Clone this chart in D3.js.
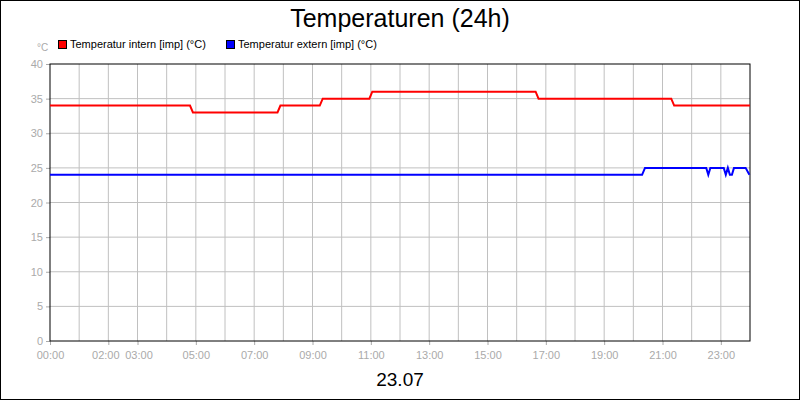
<!DOCTYPE html>
<html><head><meta charset="utf-8">
<script src="https://cdn.jsdelivr.net/npm/d3@7"></script>
<style>body{margin:0;background:#fff}svg{font-family:"Liberation Sans",Arial,sans-serif}</style>
</head><body>
<script>
// Stunden seit 00:00, Werte in °C
const internHours = [0, 4.8, 4.9, 7.8, 7.9, 9.25, 9.35, 10.95, 11.05, 16.65, 16.75, 21.3, 21.4, 24];
const internTemps = [34, 34, 33, 33, 34, 34, 35, 35, 36, 36, 35, 35, 34, 34];
const externHours = [0, 20.3, 20.4, 22.5, 22.57, 22.64, 23.1, 23.17, 23.24, 23.31, 23.38, 23.45, 23.85, 23.98];
const externTemps = [24, 24, 25, 25, 24, 25, 25, 24, 25, 24, 24, 25, 25, 24];
const tickHours = [0, 2, 3, 5, 7, 9, 11, 13, 15, 17, 19, 21, 23];
const yTicks = [0, 5, 10, 15, 20, 25, 30, 35, 40];

const W = 800, H = 400;
const m = {left: 50, right: 50, top: 64, bottom: 59};
const svg = d3.select('body').append('svg').attr('width', W).attr('height', H);
svg.append('rect').attr('x', 0.5).attr('y', 0.5).attr('width', W - 1).attr('height', H - 1)
    .attr('fill', '#fff').attr('stroke', '#000');

const x = d3.scaleLinear().domain([0, 24]).range([m.left, W - m.right]);
const y = d3.scaleLinear().domain([0, 40]).range([H - m.bottom, m.top]);

// Gitter
svg.append('g').selectAll('line').data(d3.range(1, 24)).enter().append('line')
    .attr('x1', d => x(d)).attr('x2', d => x(d)).attr('y1', y(0)).attr('y2', y(40))
    .attr('stroke', '#c0c0c0');
svg.append('g').selectAll('line').data(yTicks.slice(1, -1)).enter().append('line')
    .attr('x1', x(0)).attr('x2', x(24)).attr('y1', d => y(d)).attr('y2', d => y(d))
    .attr('stroke', '#c0c0c0');

// Achsen
const fmt = h => String(h).padStart(2, '0') + ':00';
const xAxis = svg.append('g').attr('transform', `translate(0,${y(0)})`)
    .call(d3.axisBottom(x).tickValues(tickHours).tickFormat(fmt).tickSize(4));
xAxis.selectAll('text').attr('fill', '#aaa').attr('font-size', 11).attr('dy', '1em');
xAxis.selectAll('.tick text').filter(d => d === 2).attr('dx', -3);
xAxis.selectAll('.tick text').filter(d => d === 3).attr('dx', 1);
xAxis.selectAll('.tick line').attr('stroke', '#aaa');
xAxis.select('.domain').remove();
const yAxis = svg.append('g').attr('transform', `translate(${x(0)},0)`)
    .call(d3.axisLeft(y).tickValues(yTicks).tickSize(4));
yAxis.selectAll('text').attr('fill', '#aaa').attr('font-size', 11);
yAxis.selectAll('.tick line').attr('stroke', '#aaa');
yAxis.select('.domain').remove();
svg.append('rect').attr('x', x(0)).attr('y', y(40)).attr('width', x(24) - x(0)).attr('height', y(0) - y(40))
    .attr('fill', 'none').attr('stroke', '#000');

// Linien
const line = d3.line().x(d => x(d[0])).y(d => y(d[1]));
svg.append('path').datum(d3.zip(internHours, internTemps)).attr('d', line)
    .attr('fill', 'none').attr('stroke', '#ff0000').attr('stroke-width', 2);
svg.append('path').datum(d3.zip(externHours, externTemps)).attr('d', line)
    .attr('fill', 'none').attr('stroke', '#0000ff').attr('stroke-width', 2);

// Titel & Legende
svg.append('text').attr('x', W / 2).attr('y', 27).attr('text-anchor', 'middle')
    .attr('font-size', 25).text('Temperaturen (24h)');
svg.append('text').attr('x', W / 2).attr('y', 386).attr('text-anchor', 'middle')
    .attr('font-size', 19).text('23.07');
svg.append('text').attr('x', 37).attr('y', 51).attr('fill', '#aaa').attr('font-size', 10).text('°C');
const legend = [['Temperatur intern [imp] (°C)', '#ff0000', 58], ['Temperatur extern [imp] (°C)', '#0000ff', 226]];
legend.forEach(([t, c, lx]) => {
    svg.append('rect').attr('x', lx + 0.5).attr('y', 40.5).attr('width', 8).attr('height', 8)
        .attr('fill', c).attr('stroke', '#000');
    svg.append('text').attr('x', lx + 12).attr('y', 48).attr('font-size', 11).text(t);
});
</script>
</body></html>
